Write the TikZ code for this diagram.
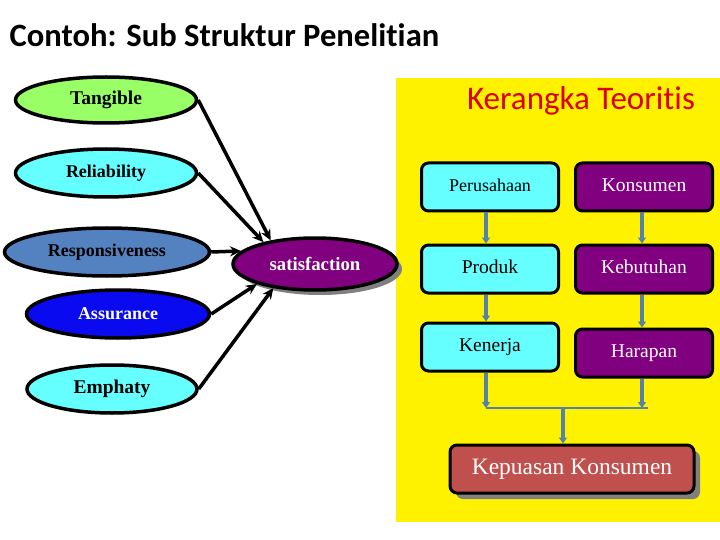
\documentclass[tikz,border=0pt]{standalone}
\usepackage{fontspec}
\setmainfont{Liberation Serif}
\newfontfamily\carl[Ligatures=NoCommon]{Carlito}
\usetikzlibrary{shapes.geometric,arrows.meta,shadows}
\definecolor{tanggreen}{RGB}{153,255,102}
\definecolor{lcyan}{RGB}{102,255,255}
\definecolor{respblue}{RGB}{84,130,192}
\definecolor{assblue}{RGB}{10,10,240}
\definecolor{purp}{RGB}{128,0,128}
\definecolor{kepred}{RGB}{192,80,77}
\definecolor{arrblue}{RGB}{84,130,168}
\definecolor{ttlred}{RGB}{220,0,0}
\newcommand{\fs}[1]{\fontsize{#1}{#1}\selectfont}
\tikzset{
  ell/.style={ellipse, draw=black, line width=3.5pt, inner sep=0pt, font=\bfseries\fs{18}},
  box/.style={rectangle, rounded corners=7pt, draw=black, line width=3pt, minimum width=137pt, minimum height=48pt, inner sep=0pt, font=\fs{19.5}},
  blk/.style={line width=3.5pt, -{Stealth[length=11pt,width=10pt]}},
  blu/.style={draw=arrblue, line width=4pt, -{Triangle[length=6pt,width=8pt]}},
}
\begin{document}
\begin{tikzpicture}[x=1pt,y=-1pt]
\useasboundingbox (0,0) rectangle (720,540);
\fill[yellow] (396,78) rectangle (720,522);
\node[font=\carl\bfseries\fs{32.6}, anchor=west] (title) at (6,35) {Contoh: Sub Struktur Penelitian};
\node[font=\carl\fs{33}, text=ttlred] (kt) at (581,101) {Kerangka Teoritis};
% ellipses
\node[ell, fill=tanggreen, minimum width=181pt, minimum height=46pt, font=\bfseries\fs{19.5}] (tan) at (106,100) {Tangible};
\node[ell, fill=lcyan, minimum width=181pt, minimum height=48pt] (rel) at (106,173) {Reliability};
\node[ell, fill=respblue, minimum width=205pt, minimum height=48pt] (res) at (107,252) {Responsiveness};
\node[ell, fill=assblue, minimum width=183pt, minimum height=48pt, text=white] (ass) at (118,314) {Assurance};
\node[ell, fill=lcyan, minimum width=170pt, minimum height=48pt, font=\bfseries\fs{19.5}] (emp) at (112,389) {Emphaty};
\node[ell, fill=purp, minimum width=164pt, minimum height=52pt, text=white, font=\bfseries\fs{18.8},
  drop shadow={shadow xshift=5pt, shadow yshift=-5pt, fill=gray, opacity=1}] (sat) at (315,264) {satisfaction};
\draw[blk] (tan.east) -- (sat.152);
\draw[blk] (rel.east) -- (sat.157);
\draw[blk] (res.east) -- (sat.170);
\draw[blk] (ass.east) -- (sat.199);
\draw[blk] (emp.east) -- (sat.210);
% boxes
\node[box, fill=lcyan, font=\fs{18}] (per) at (490,187) {\raisebox{4pt}{Perusahaan}};
\node[box, fill=purp, text=white] (kon) at (644,187) {\raisebox{4pt}{Konsumen}};
\node[box, fill=lcyan] (pro) at (490,269) {\raisebox{4pt}{Produk}};
\node[box, fill=purp, text=white] (keb) at (644,269) {\raisebox{4pt}{Kebutuhan}};
\node[box, fill=lcyan] (ken) at (490,347) {\raisebox{4pt}{Kenerja}};
\node[box, fill=purp, text=white] (har) at (644,353) {\raisebox{4pt}{Harapan}};
\node[box, fill=kepred, text=white, minimum width=244pt, minimum height=48pt, font=\fs{23.5},
  drop shadow={shadow xshift=6pt, shadow yshift=-6pt, fill=gray, opacity=1}] (kep) at (572,469) {Kepuasan Konsumen};
\coordinate (mL) at (486,408);
\coordinate (mR) at (648,408);
\coordinate (mC) at (563,408);
\draw[blu] ([xshift=-4pt]per.south) -- ([xshift=-4pt]pro.north);
\draw[blu] ([xshift=-2pt]kon.south) -- ([xshift=-2pt]keb.north);
\draw[blu] ([xshift=-4pt]pro.south) -- ([xshift=-4pt]ken.north);
\draw[blu] ([xshift=-2pt]keb.south) -- ([xshift=-2pt]har.north);
\draw[blu] ([xshift=-4pt]ken.south) -- (mL);
\draw[blu] ([xshift=-2pt]har.south) -- ([xshift=-6pt]mR);
\draw[draw=arrblue, line width=1.5pt] (mL) -- (mR);
\draw[blu] (mC) -- (kep.north -| mC);
\end{tikzpicture}
\end{document}
